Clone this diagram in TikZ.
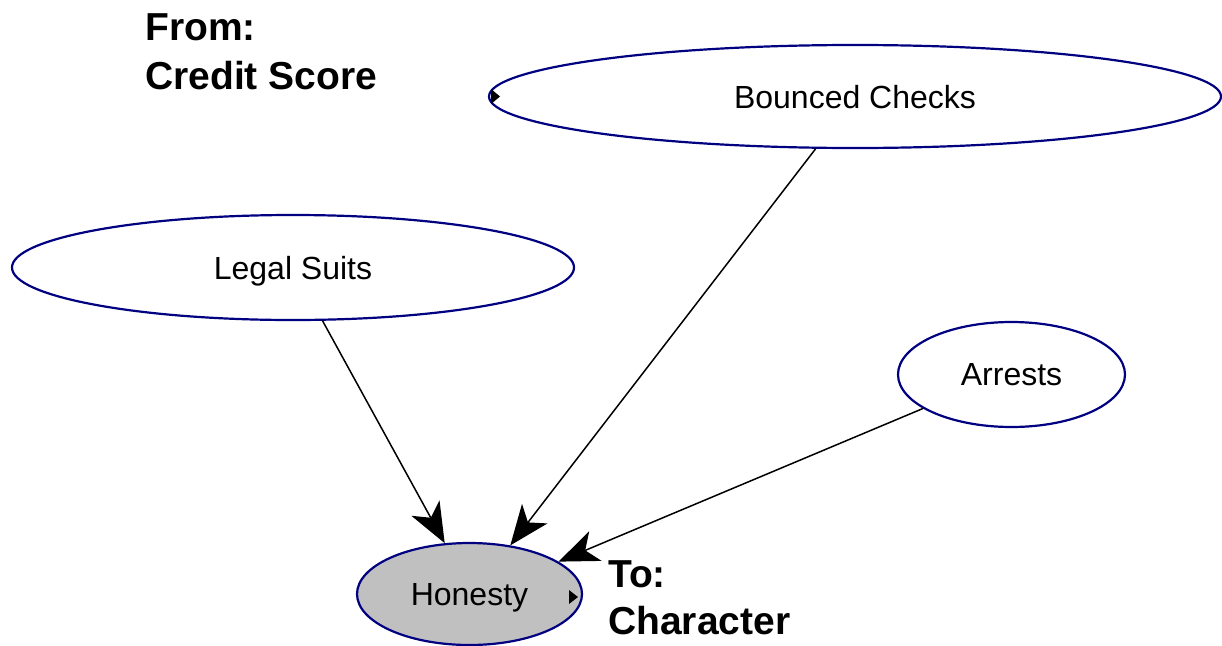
\documentclass[tikz,border=0pt]{standalone}
\usepackage{fontspec}
\setmainfont{Liberation Sans}
\usetikzlibrary{shapes.geometric,arrows.meta}
\definecolor{nodeedge}{RGB}{0,0,128}
\definecolor{nodegrey}{RGB}{192,192,192}
\begin{document}
\begin{tikzpicture}[x=1pt,y=-1pt,
  varnode/.style={ellipse,draw=nodeedge,line width=2.2pt,inner sep=0pt,
    text depth=0pt,font=\fontsize{32}{36}\selectfont},
  link/.style={line width=1.5pt,-{Stealth[length=40pt,width=32pt,inset=11pt]}},
  tag/.style={anchor=base west,inner sep=0pt,font=\fontsize{39}{43}\selectfont\bfseries},
  marker/.style={fill=black}]
\useasboundingbox (0,0) rectangle (1222,645);
\fill[white] (0,0) rectangle (1222,645);

% variables
\node[varnode,minimum width=732pt,minimum height=103pt] (bc) at (855,96.5) {Bounced Checks};
\node[varnode,minimum width=562pt,minimum height=105pt] (ls) at (293,267.5) {Legal Suits};
\node[varnode,minimum width=227pt,minimum height=105pt] (ar) at (1011.5,374.5) {Arrests};
\node[varnode,fill=nodegrey,minimum width=225pt,minimum height=102pt] (hon) at (469.5,594) {Honesty};

% influences
\draw[link] (ls.-61.8) -- (hon.116.6);
\draw[link] (bc.233.2) -- (hon.50.4);
\draw[link] (ar.201.9) -- (hon.20.1);

% small port markers
\fill[marker] (491,89) -- (491,104) -- (500,96.5) -- cycle;
\fill[marker] (569,590) -- (569,604) -- (578,597) -- cycle;

% side labels
\node[tag] (from) at (145,40) {From:};
\node[tag] (fromname) at (145,89) {Credit Score};
\node[tag] (to) at (608,587) {To:};
\node[tag] (toname) at (608,634) {Character};
\end{tikzpicture}
\end{document}
